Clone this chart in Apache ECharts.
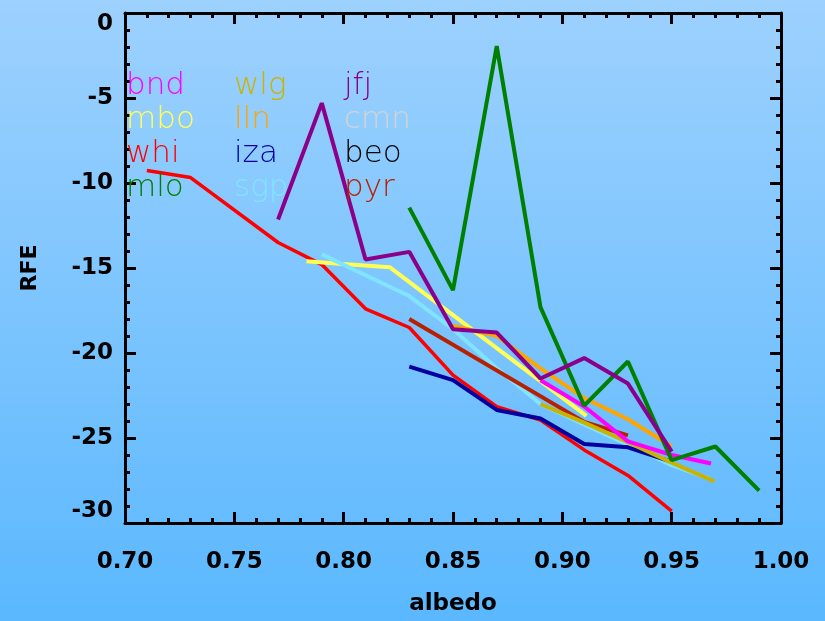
<!DOCTYPE html>
<html>
<head>
<meta charset="utf-8">
<script src="https://cdn.jsdelivr.net/npm/echarts@6/dist/echarts.min.js"></script>
<style>
html,body{margin:0;padding:0;}
#chart{width:825px;height:621px;}
</style>
</head>
<body>
<div id="chart"></div>
<script>
// ---- Data (albedo, RFE) per station ----
const stations = ['bnd','wlg','jfj','mbo','lln','cmn','whi','iza','beo','mlo','sgp','pyr'];
const stationColors = ['#ff00ff','#c8b400','#8b008b','#ffff55','#ffa500','#d3d3d3','#ff0000','#0000a0','#000000','#008000','#80e4ff','#b82000'];

const whi_albedo = [0.71,0.73,0.77,0.79,0.81,0.83,0.85,0.87,0.89,0.91,0.93,0.95];
const whi_rfe    = [-9.27,-9.68,-13.5,-14.8,-17.4,-18.5,-21.3,-23.15,-23.95,-25.7,-27.2,-29.3];

const iza_albedo = [0.83,0.85,0.87,0.89,0.91,0.93,0.95];
const iza_rfe    = [-20.8,-21.6,-23.35,-23.85,-25.35,-25.55,-26.4];

const mlo_albedo = [0.83,0.85,0.87,0.89,0.91,0.93,0.95,0.97,0.99];
const mlo_rfe    = [-11.45,-16.3,-1.95,-17.3,-23.1,-20.5,-26.3,-25.5,-28.1];

const jfj_albedo = [0.77,0.79,0.81,0.83,0.85,0.87,0.89,0.91,0.93,0.95];
const jfj_rfe    = [-12.15,-5.3,-14.5,-14.05,-18.6,-18.8,-21.5,-20.3,-21.8,-25.8];

const mbo_albedo = [0.783,0.798,0.821,0.911];
const mbo_rfe    = [-14.6,-14.75,-14.95,-23.7];

const sgp_albedo = [0.79,0.83,0.85,0.87,0.89,0.91,0.93,0.95,0.9675];
const sgp_rfe    = [-14.2,-16.65,-18.6,-20.9,-23.0,-24.2,-25.4,-26.6,-27.4];

const pyr_albedo = [0.83,0.91,0.93];
const pyr_rfe    = [-18.0,-24.05,-24.85];

const lln_albedo = [0.85,0.87,0.89,0.91,0.93,0.95];
const lln_rfe    = [-18.4,-19.0,-20.9,-22.65,-23.9,-25.5];

const bnd_albedo = [0.89,0.91,0.93,0.95,0.968];
const bnd_rfe    = [-21.6,-23.15,-25.2,-26.0,-26.5];

const wlg_albedo = [0.89,0.91,0.93,0.95,0.9695];
const wlg_rfe    = [-23.0,-24.1,-25.25,-26.45,-27.55];

const cmn_albedo = [];
const cmn_rfe    = [];
const beo_albedo = [];
const beo_rfe    = [];

const xTicks = [0.70,0.75,0.80,0.85,0.90,0.95,1.00];
const yTicks = [-30,-25,-20,-15,-10,-5,0];

const seriesData = {
  bnd:[bnd_albedo,bnd_rfe], wlg:[wlg_albedo,wlg_rfe], jfj:[jfj_albedo,jfj_rfe],
  mbo:[mbo_albedo,mbo_rfe], lln:[lln_albedo,lln_rfe], cmn:[cmn_albedo,cmn_rfe],
  whi:[whi_albedo,whi_rfe], iza:[iza_albedo,iza_rfe], beo:[beo_albedo,beo_rfe],
  mlo:[mlo_albedo,mlo_rfe], sgp:[sgp_albedo,sgp_rfe], pyr:[pyr_albedo,pyr_rfe]
};

// drawing order (later drawn on top)
const drawOrder = ['whi','mbo','sgp','pyr','iza','lln','wlg','bnd','mlo','jfj','cmn','beo'];

const chart = echarts.init(document.getElementById('chart'), null, {renderer:'canvas'});

const series = drawOrder.map(name => {
  const [xs, ys] = seriesData[name];
  return {
    name: name,
    type: 'line',
    xAxisIndex: 0, yAxisIndex: 0,
    showSymbol: false, symbol: 'none',
    data: xs.map((x,i) => [x, ys[i]]),
    lineStyle: {color: stationColors[stations.indexOf(name)], width: name === 'whi' ? 3.5 : 4},
    itemStyle: {color: stationColors[stations.indexOf(name)]},
    animation: false
  };
});

const FONT = '"DejaVu Sans", "Liberation Sans", Arial, sans-serif';

// Legend text as graphic elements (3 columns x 4 rows)
const colX = [126, 234, 344];
const rowY = [86, 120, 154, 188];
const legendGraphics = stations.map((name, i) => ({
  type: 'text',
  left: colX[i % 3],
  top: rowY[Math.floor(i / 3)] - 16,
  style: {
    text: name,
    fill: stationColors[i],
    font: '200 31px ' + FONT
  },
  z: 10
}));

const axisCommonX = {
  type: 'value', min: 0.70, max: 1.00, interval: 0.05,
  axisLine: {show: true, onZero: false, lineStyle: {color: '#000', width: 3}},
  axisTick: {show: true, inside: true, length: 11, lineStyle: {color: '#000', width: 3}},
  minorTick: {show: true, splitNumber: 5, length: 5, lineStyle: {color: '#000', width: 3}},
  splitLine: {show: false}
};
const axisCommonY = {
  type: 'value', min: -30, max: 0, interval: 5,
  axisLine: {show: true, onZero: false, lineStyle: {color: '#000', width: 3}},
  axisTick: {show: true, inside: true, length: 11, lineStyle: {color: '#000', width: 3}},
  minorTick: {show: true, splitNumber: 5, length: 5, lineStyle: {color: '#000', width: 3}},
  splitLine: {show: false}
};

const option = {
  backgroundColor: {
    type: 'linear', x: 0, y: 0, x2: 0, y2: 1,
    colorStops: [{offset: 0, color: '#9dd1fe'}, {offset: 1, color: '#5bb8fe'}]
  },
  animation: false,
  grid: {left: 125, right: 44, top: 13, bottom: 96, containLabel: false},
  xAxis: [
    Object.assign({}, axisCommonX, {
      position: 'bottom',
      name: 'albedo', nameLocation: 'middle', nameGap: 70,
      nameTextStyle: {color: '#000', fontSize: 23, fontWeight: 'bold', fontFamily: FONT},
      axisLabel: {
        show: true, color: '#000', fontSize: 23, fontWeight: 'bold', margin: 28,
        fontFamily: FONT,
        formatter: v => v.toFixed(2)
      }
    }),
    Object.assign({}, axisCommonX, {position: 'top', axisLabel: {show: false}})
  ],
  yAxis: [
    Object.assign({}, axisCommonY, {
      position: 'left',
      name: 'RFE', nameLocation: 'middle', nameGap: 84, nameRotate: 90,
      nameTextStyle: {color: '#000', fontSize: 22, fontWeight: 'bold', fontFamily: FONT},
      axisLabel: {
        show: true, color: '#000', fontSize: 23, fontWeight: 'bold', margin: 12,
        fontFamily: FONT,
        verticalAlignMaxLabel: 'top', verticalAlignMinLabel: 'bottom'
      }
    }),
    Object.assign({}, axisCommonY, {position: 'right', axisLabel: {show: false}})
  ],
  graphic: legendGraphics,
  series: series
};

chart.setOption(option);
</script>
</body>
</html>
